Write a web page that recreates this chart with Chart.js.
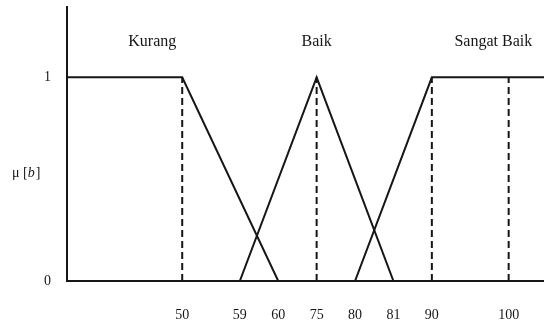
<!DOCTYPE html>
<html>
<head>
<meta charset="utf-8">
<script src="https://cdn.jsdelivr.net/npm/chart.js@4/dist/chart.umd.min.js"></script>
<style>
  html, body { margin: 0; padding: 0; background: #fff; }
  #wrap { width: 544px; height: 327px; position: relative; }
</style>
</head>
<body>
<div id="wrap"><canvas id="c"></canvas></div>
<script>
// ---- data ----
const categories = ['Kurang', 'Baik', 'Sangat Baik'];
const xMin = 0, xMax = 110;
const kurangX = [xMin, 50, 60];
const kurangY = [1, 1, 0];
const baikX = [59, 75, 81];
const baikY = [0, 1, 0];
const sangatX = [80, 90, xMax];
const sangatY = [0, 1, 1];
const dashedAt = [50, 75, 90, 100];
const xTickValues = [50, 59, 60, 75, 80, 81, 90, 100];
const xTickLabels = ['50', '59', '60', '75', '80', '81', '90', '100'];
const yTickValues = [0, 1];
const yTickLabels = ['0', '1'];
const labelX = [37, 75, 98];   // where each category name sits on the x axis

// The x axis in the figure is schematic (not to scale): each value sits at a "slot"
class SchematicScale extends Chart.LinearScale {
  toSlot(v) {
    const m = this.options.slots;
    if (v <= m[0][0]) return m[0][1];
    for (let i = 1; i < m.length; i++) {
      if (v <= m[i][0]) {
        const [v0, s0] = m[i - 1], [v1, s1] = m[i];
        return s0 + (v - v0) / (v1 - v0) * (s1 - s0);
      }
    }
    return m[m.length - 1][1];
  }
  fromSlot(s) {
    const m = this.options.slots;
    if (s <= m[0][1]) return m[0][0];
    for (let i = 1; i < m.length; i++) {
      if (s <= m[i][1]) {
        const [v0, s0] = m[i - 1], [v1, s1] = m[i];
        return v0 + (s - s0) / (s1 - s0) * (v1 - v0);
      }
    }
    return m[m.length - 1][0];
  }
  getPixelForValue(v) {
    const m = this.options.slots;
    const sMin = m[0][1], sMax = m[m.length - 1][1];
    return this.left + (this.toSlot(v) - sMin) / (sMax - sMin) * this.width;
  }
  getValueForPixel(p) {
    const m = this.options.slots;
    const sMin = m[0][1], sMax = m[m.length - 1][1];
    return this.fromSlot(sMin + (p - this.left) / this.width * (sMax - sMin));
  }
}
SchematicScale.id = 'schematic';
SchematicScale.defaults = Chart.LinearScale.defaults;
Chart.register(SchematicScale);

const pts = (xs, ys) => xs.map((x, i) => ({ x, y: ys[i] }));
const INK = '#161616';
const FONT = "'Liberation Serif', 'Times New Roman', serif";

const datasets = [
  { data: pts(kurangX, kurangY) },
  { data: pts(baikX, baikY) },
  { data: pts(sangatX, sangatY) },
  ...dashedAt.map(x => ({ data: [{ x, y: 0 }, { x, y: 1 }], borderDash: [7, 4] }))
].map(d => Object.assign({
  borderColor: INK, borderWidth: 2, pointRadius: 0, tension: 0, fill: false
}, d));

const textPlugin = {
  id: 'texts',
  afterDraw(chart) {
    const { ctx, scales: { x } } = chart;
    ctx.save();
    ctx.fillStyle = INK;
    ctx.textAlign = 'center';
    ctx.textBaseline = 'alphabetic';
    ctx.font = '16px ' + FONT;
    categories.forEach((c, i) => ctx.fillText(c, x.getPixelForValue(labelX[i]), 46));
    // y axis title  μ [b]
    ctx.textAlign = 'left';
    let px = 12;
    const parts = [['μ [', ''], ['b', 'italic '], [']', '']];
    parts.forEach(([t, st]) => {
      ctx.font = st + '14px ' + FONT;
      ctx.fillText(t, px, 177);
      px += ctx.measureText(t).width + (st ? 1 : 0);
    });
    ctx.restore();
  }
};

new Chart(document.getElementById('c'), {
  type: 'line',
  data: { datasets },
  plugins: [textPlugin],
  options: {
    responsive: true,
    maintainAspectRatio: false,
    animation: false,
    layout: { padding: { top: 7, left: 0, right: 0, bottom: 0 } },
    plugins: { legend: { display: false }, tooltip: { enabled: false } },
    scales: {
      x: {
        type: 'schematic',
        min: xMin, max: xMax,
        slots: [[xMin, -3], [50, 0], [59, 1.5], [60, 2.5], [75, 3.5], [80, 4.5], [81, 5.5], [90, 6.5], [100, 8.5], [xMax, 9.42]],
        grid: { display: false },
        border: { display: true, color: INK, width: 2 },
        afterBuildTicks: s => { s.ticks = xTickValues.map(v => ({ value: v })); },
        afterFit: s => { s.height = 46; s.paddingLeft = 0; s.paddingRight = 0; },
        ticks: {
          autoSkip: false, maxRotation: 0, padding: 18,
          color: INK, font: { family: FONT, size: 14 },
          callback: (v) => xTickLabels[xTickValues.indexOf(v)]
        }
      },
      y: {
        type: 'linear',
        min: 0, max: 1.345,
        grid: { display: false },
        border: { display: true, color: INK, width: 2 },
        afterBuildTicks: s => { s.ticks = yTickValues.map(v => ({ value: v })); },
        afterFit: s => { s.width = 67; s.paddingTop = 0; s.paddingBottom = 0; },
        ticks: {
          padding: 8, color: INK, font: { family: FONT, size: 14 },
          callback: (v) => yTickLabels[yTickValues.indexOf(v)]
        }
      }
    }
  }
});
</script>
</body>
</html>
